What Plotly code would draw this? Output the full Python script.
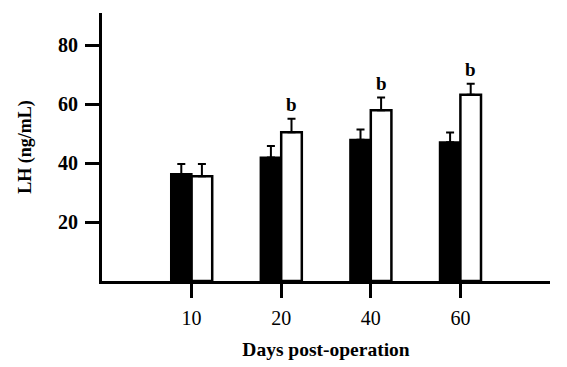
import plotly.graph_objects as go

categories = ["10", "20", "40", "60"]
control_vals = [36.3, 41.9, 48.0, 47.1]
control_err = [3.4, 3.9, 3.4, 3.3]
treated_vals = [35.6, 50.5, 58.0, 63.2]
treated_err = [4.1, 4.6, 4.3, 3.8]
sig_labels = ["", "b", "b", "b"]
y_ticks = [20, 40, 60, 80]

xpos = list(range(len(categories)))
bar_w = 0.23
font = "Liberation Serif"

fig = go.Figure()
fig.add_trace(go.Bar(
    x=xpos, y=control_vals, offset=-bar_w, width=bar_w,
    marker=dict(color="black", line=dict(color="black", width=2)),
    error_y=dict(type="data", array=control_err, arrayminus=[0] * 4,
                 symmetric=False, color="black", thickness=2, width=4),
    showlegend=False,
))
fig.add_trace(go.Bar(
    x=xpos, y=treated_vals, offset=0, width=bar_w,
    marker=dict(color="white", line=dict(color="black", width=2.5)),
    error_y=dict(type="data", array=treated_err, arrayminus=[0] * 4,
                 symmetric=False, color="black", thickness=2, width=4),
    showlegend=False,
))

for i, lab in enumerate(sig_labels):
    if lab:
        fig.add_annotation(
            x=xpos[i] + bar_w / 2, y=treated_vals[i] + treated_err[i],
            text=lab, showarrow=False, yanchor="bottom", yshift=2,
            font=dict(family=font, size=19, color="black", weight="bold"),
        )

fig.update_layout(
    width=567, height=367,
    margin=dict(l=94, r=25, t=5, b=94),
    plot_bgcolor="white", paper_bgcolor="white",
    bargap=0.54,
    font=dict(family=font, color="black"),
)
fig.update_xaxes(
    range=[-1, 4], tickvals=xpos, ticktext=categories,
    showline=True, linecolor="black", linewidth=2.5,
    ticks="outside", ticklen=14, tickwidth=2.5, tickcolor="black",
    tickfont=dict(family=font, size=20, color="black"),
    ticklabelstandoff=3,
    showgrid=False, zeroline=False, automargin=False,
    title=dict(text="Days post-operation", standoff=15,
               font=dict(family=font, size=19.5, color="black", weight="bold")),
)
fig.update_yaxes(
    range=[0, 91], tickvals=y_ticks,
    showline=True, linecolor="black", linewidth=3,
    ticks="outside", ticklen=14, tickwidth=2.5, tickcolor="black",
    tickfont=dict(family=font, size=20, color="black", weight="bold"),
    ticklabelstandoff=3,
    showgrid=False, zeroline=False, automargin=False,
    title=dict(text="LH (ng/mL)", standoff=22,
               font=dict(family=font, size=18, color="black", weight="bold")),
)

fig.write_html("out.html")
